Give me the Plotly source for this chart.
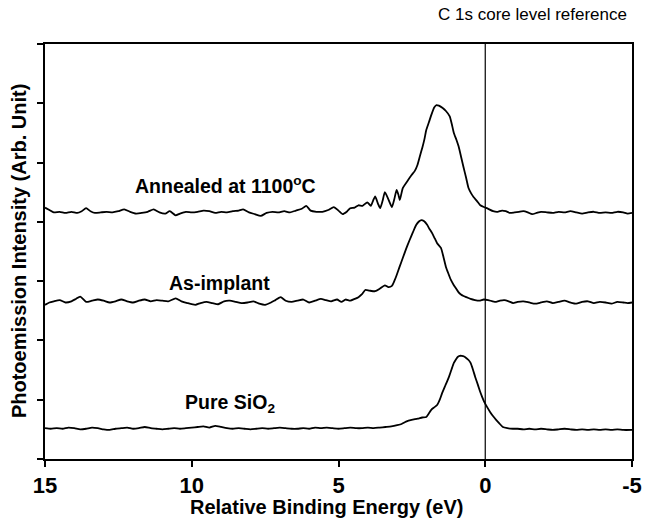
import plotly.graph_objects as go

# ---------------- data ----------------
annealed_E = [15.0, 14.85, 14.7, 14.5, 14.3, 14.1, 13.9, 13.75, 13.6, 13.45, 13.3, 13.1, 12.9, 12.7, 12.5,
              12.3, 12.1, 11.9, 11.7, 11.5, 11.3, 11.1, 10.9, 10.75, 10.55, 10.4, 10.2, 10.0, 9.8, 9.6,
              9.4, 9.2, 9.0, 8.8, 8.6, 8.4, 8.25, 8.05, 7.85, 7.65, 7.45, 7.25, 7.05, 6.85, 6.65,
              6.45, 6.25, 6.1, 5.95, 5.75, 5.55, 5.35, 5.16, 5.0, 4.86, 4.7, 4.6, 4.45, 4.32, 4.18,
              4.02, 3.9, 3.82, 3.75, 3.65, 3.58, 3.5, 3.42, 3.3, 3.18, 3.1, 3.02, 2.96, 2.91, 2.81,
              2.65, 2.51, 2.4, 2.31, 2.22, 2.14, 2.07, 2.01, 1.92, 1.84, 1.74, 1.66, 1.58, 1.45, 1.34,
              1.21, 1.14, 1.07, 0.98, 0.9, 0.82, 0.74, 0.65, 0.57, 0.48, 0.40, 0.28, 0.17, 0.05, -0.1,
              -0.27, -0.42, -0.57, -0.7, -0.84, -1.0, -1.15, -1.3, -1.45, -1.6, -1.75, -1.9, -2.1, -2.3,
              -2.5, -2.7, -2.9, -3.1, -3.3, -3.5, -3.7, -3.9, -4.1, -4.3, -4.5, -4.7, -4.85, -5.0]
annealed_I = [4.24, 4.20, 4.16, 4.17, 4.15, 4.17, 4.15, 4.18, 4.23, 4.18, 4.15, 4.16, 4.17, 4.16, 4.18,
              4.21, 4.17, 4.14, 4.15, 4.17, 4.21, 4.16, 4.14, 4.18, 4.11, 4.14, 4.17, 4.16, 4.17, 4.19,
              4.18, 4.15, 4.17, 4.16, 4.18, 4.19, 4.21, 4.16, 4.13, 4.10, 4.15, 4.17, 4.16, 4.18, 4.16,
              4.19, 4.22, 4.27, 4.19, 4.17, 4.17, 4.20, 4.25, 4.19, 4.13, 4.18, 4.23, 4.24, 4.28, 4.27,
              4.33, 4.27, 4.36, 4.43, 4.30, 4.23, 4.35, 4.50, 4.38, 4.25, 4.38, 4.54, 4.46, 4.37, 4.57,
              4.69, 4.79, 4.86, 4.96, 5.12, 5.26, 5.40, 5.55, 5.68, 5.80, 5.93, 5.97, 5.96, 5.92, 5.87,
              5.78, 5.65, 5.50, 5.38, 5.26, 5.09, 4.92, 4.74, 4.57, 4.48, 4.42, 4.35, 4.28, 4.25, 4.22,
              4.18, 4.17, 4.19, 4.18, 4.15, 4.16, 4.17, 4.18, 4.16, 4.13, 4.15, 4.17, 4.16, 4.15,
              4.17, 4.16, 4.18, 4.16, 4.14, 4.16, 4.17, 4.15, 4.16, 4.15, 4.17, 4.16, 4.14, 4.15]

implant_E = [15.0, 14.85, 14.7, 14.5, 14.3, 14.1, 13.95, 13.8, 13.6, 13.4, 13.2, 13.0, 12.8, 12.6, 12.4,
             12.2, 12.0, 11.8, 11.6, 11.4, 11.2, 11.0, 10.8, 10.55, 10.35, 10.15, 9.88, 9.7, 9.5, 9.3,
             9.1, 8.9, 8.7, 8.5, 8.3, 8.1, 7.9, 7.7, 7.5, 7.3, 7.15, 6.97, 6.8, 6.6, 6.4,
             6.2, 6.0, 5.8, 5.6, 5.43, 5.25, 5.05, 4.9, 4.76, 4.6, 4.45, 4.32, 4.2, 4.09, 3.95,
             3.75, 3.6, 3.42, 3.3, 3.18, 3.1, 3.02, 2.92, 2.81, 2.7, 2.58, 2.46, 2.35, 2.25, 2.18,
             2.08, 1.98, 1.9, 1.81, 1.72, 1.64, 1.51, 1.42, 1.34, 1.25, 1.17, 1.08, 1.0, 0.92, 0.84,
             0.74, 0.64, 0.5, 0.35, 0.2, 0.05, -0.1, -0.25, -0.37, -0.5, -0.65, -0.8, -0.95, -1.1,
             -1.3, -1.5, -1.7, -1.9, -2.1, -2.3, -2.5, -2.7, -2.9, -3.1, -3.3, -3.5, -3.7, -3.9,
             -4.1, -4.3, -4.5, -4.7, -4.85, -5.0]
implant_I = [2.60, 2.64, 2.66, 2.68, 2.64, 2.66, 2.70, 2.74, 2.65, 2.67, 2.69, 2.67, 2.64, 2.66, 2.69,
             2.66, 2.64, 2.67, 2.69, 2.66, 2.68, 2.67, 2.66, 2.71, 2.66, 2.63, 2.60, 2.63, 2.65, 2.63,
             2.61, 2.66, 2.67, 2.65, 2.63, 2.64, 2.66, 2.62, 2.60, 2.64, 2.68, 2.73, 2.67, 2.65, 2.67,
             2.69, 2.64, 2.67, 2.70, 2.68, 2.66, 2.69, 2.65, 2.69, 2.67, 2.70, 2.73, 2.78, 2.85, 2.84,
             2.83, 2.87, 2.93, 2.90, 2.92, 3.00, 3.10, 3.24, 3.39, 3.54, 3.69, 3.83, 3.95, 4.01, 4.03,
             4.01, 3.95, 3.88, 3.81, 3.72, 3.64, 3.56, 3.40, 3.24, 3.12, 3.02, 2.94, 2.88, 2.82, 2.78,
             2.75, 2.73, 2.70, 2.68, 2.67, 2.69, 2.68, 2.66, 2.65, 2.67, 2.68, 2.66, 2.63, 2.65,
             2.66, 2.64, 2.62, 2.64, 2.66, 2.63, 2.65, 2.67, 2.64, 2.62, 2.65, 2.66, 2.63, 2.65,
             2.64, 2.62, 2.65, 2.64, 2.63, 2.64]

pure_E = [15.0, 14.8, 14.6, 14.4, 14.2, 14.0, 13.8, 13.6, 13.4, 13.2, 13.0, 12.8, 12.6, 12.4, 12.2,
          12.0, 11.8, 11.6, 11.4, 11.2, 11.0, 10.8, 10.6, 10.4, 10.2, 10.0, 9.8, 9.6, 9.4, 9.2,
          9.0, 8.8, 8.6, 8.4, 8.2, 8.0, 7.8, 7.6, 7.4, 7.2, 7.0, 6.8, 6.6, 6.4, 6.2,
          6.0, 5.8, 5.6, 5.4, 5.2, 5.0, 4.8, 4.6, 4.4, 4.2, 4.0, 3.8, 3.6, 3.4, 3.2,
          3.0, 2.85, 2.7, 2.51, 2.3, 2.15, 2.01, 1.92, 1.84, 1.74, 1.64, 1.55, 1.47, 1.36, 1.24,
          1.15, 1.07, 1.0, 0.94, 0.87, 0.80, 0.72, 0.64, 0.57, 0.50, 0.42, 0.34, 0.25, 0.17, 0.1,
          0.03, -0.07, -0.17, -0.27, -0.37, -0.48, -0.60, -0.75, -0.94, -1.1, -1.3, -1.5, -1.7, -1.9,
          -2.1, -2.3, -2.5, -2.7, -2.9, -3.1, -3.3, -3.5, -3.7, -3.9, -4.1, -4.3, -4.5, -4.7, -5.0]
pure_I = [0.52, 0.51, 0.52, 0.51, 0.53, 0.52, 0.50, 0.51, 0.53, 0.52, 0.50, 0.49, 0.51, 0.52, 0.53,
          0.51, 0.52, 0.54, 0.52, 0.51, 0.50, 0.51, 0.52, 0.51, 0.52, 0.53, 0.54, 0.55, 0.53, 0.56,
          0.54, 0.52, 0.51, 0.52, 0.51, 0.50, 0.51, 0.52, 0.51, 0.52, 0.53, 0.52, 0.51, 0.51, 0.52,
          0.51, 0.53, 0.52, 0.53, 0.52, 0.51, 0.52, 0.53, 0.52, 0.52, 0.53, 0.52, 0.53, 0.54, 0.55,
          0.57, 0.59, 0.63, 0.66, 0.68, 0.70, 0.71, 0.77, 0.83, 0.87, 0.91, 1.00, 1.11, 1.24, 1.38,
          1.51, 1.62, 1.68, 1.72, 1.74, 1.74, 1.73, 1.70, 1.67, 1.62, 1.51, 1.38, 1.25, 1.13, 1.04,
          0.96, 0.87, 0.79, 0.72, 0.66, 0.60, 0.54, 0.52, 0.51, 0.51, 0.50, 0.51, 0.50, 0.51,
          0.50, 0.49, 0.50, 0.51, 0.50, 0.49, 0.50, 0.49, 0.50, 0.49, 0.50, 0.49, 0.50, 0.49, 0.49]

x_ticks = [15, 10, 5, 0, -5]
x_tick_labels = ["15", "10", "5", "0", "-5"]
y_ticks = [0, 1, 2, 3, 4, 5, 6, 7]

labels = ["Annealed at 1100<sup>o</sup>C", "As-implant", "Pure SiO<sub>2</sub>"]
label_E = [8.85, 9.05, 8.7]
label_I = [4.62, 2.97, 0.94]

title_text = "C 1s core level reference"
x_title = "Relative Binding Energy (eV)"
y_title = "Photoemission Intensity (Arb. Unit)"

# ---------------- figure ----------------
FONT = "Liberation Sans, Arial, Helvetica, sans-serif"
fig = go.Figure()
for E, I in [(annealed_E, annealed_I), (implant_E, implant_I), (pure_E, pure_I)]:
    fig.add_trace(go.Scatter(x=E, y=I, mode="lines",
                             line=dict(color="black", width=1.8, shape="spline", smoothing=0.5),
                             showlegend=False, hoverinfo="skip"))

for t, xe, yi in zip(labels, label_E, label_I):
    fig.add_annotation(x=xe, y=yi, xref="x", yref="y", text="<b>" + t + "</b>",
                       showarrow=False, font=dict(family=FONT, size=19.5, color="black"))

fig.add_vline(x=0, line=dict(color="black", width=1.2))

fig.add_annotation(x=0.995, y=1.07, xref="paper", yref="paper", text=title_text,
                   xanchor="right", yanchor="middle", showarrow=False,
                   font=dict(family=FONT, size=17, color="black"))
fig.add_annotation(x=-0.045, y=0.5, xref="paper", yref="paper", text="<b>" + y_title + "</b>",
                   textangle=-90, showarrow=False, xanchor="center", yanchor="middle",
                   font=dict(family=FONT, size=20, color="black"))
fig.add_annotation(x=0.48, y=-0.115, xref="paper", yref="paper", text="<b>" + x_title + "</b>",
                   showarrow=False, xanchor="center", yanchor="middle",
                   font=dict(family=FONT, size=20, color="black"))

fig.update_xaxes(range=[15, -5], tickmode="array", tickvals=x_ticks, ticktext=x_tick_labels,
                 ticks="outside", ticklen=6, tickwidth=1.5, tickcolor="black",
                 showline=True, linecolor="black", linewidth=1.5, mirror=True,
                 showgrid=False, zeroline=False,
                 tickfont=dict(family=FONT, size=22, color="black", weight="bold"))
fig.update_yaxes(range=[0, 7], tickmode="array", tickvals=y_ticks, showticklabels=False,
                 ticks="outside", ticklen=6, tickwidth=1.5, tickcolor="black",
                 showline=True, linecolor="black", linewidth=1.5, mirror=True,
                 showgrid=False, zeroline=False)

fig.update_layout(width=650, height=523, margin=dict(l=45, r=8, t=44, b=64),
                  paper_bgcolor="white", plot_bgcolor="white")

# remove the browser's default page margin so the figure sits at the window's corner
fig.write_html("out.html", config={"displayModeBar": False},
               post_script="document.body.style.margin='0';document.body.style.overflow='hidden';")
